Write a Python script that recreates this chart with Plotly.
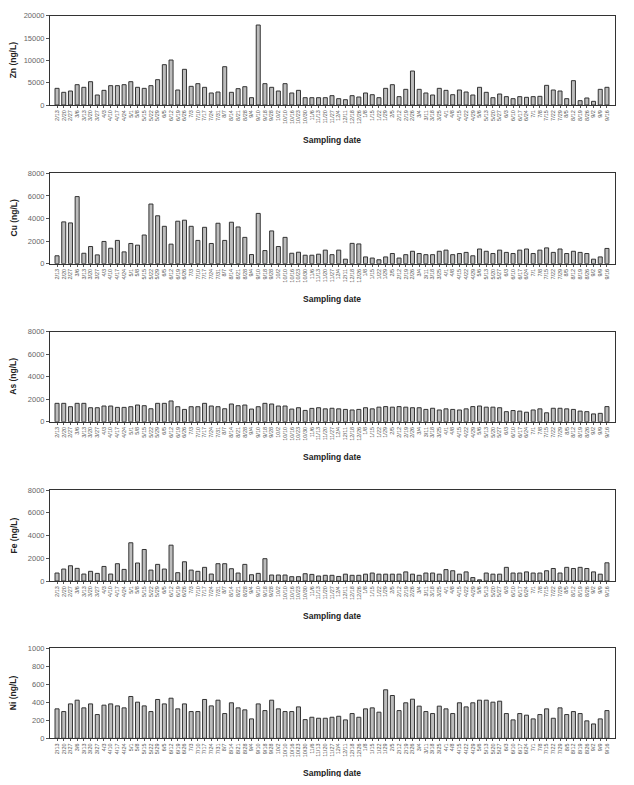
import plotly.graph_objects as go

dates = ["2/13","2/20","2/27","3/6","3/13","3/20","3/27","4/3","4/10","4/17","4/24",
         "5/1","5/8","5/15","5/22","5/29","6/5","6/12","6/19","6/26","7/3","7/10","7/17",
         "7/24","7/31","8/7","8/14","8/21","8/28","9/4","9/10","9/18","9/28","10/2","10/10",
         "10/16","10/23","10/30","11/6","11/13","11/20","11/27","12/4","12/11","12/18","12/26",
         "1/8","1/15","1/22","1/29","2/5","2/12","2/19","2/26","3/4","3/11","3/18","3/25",
         "4/1","4/8","4/15","4/22","4/29","5/6","5/13","5/20","5/27","6/3","6/10","6/17","6/24",
         "7/1","7/8","7/15","7/22","7/29","8/5","8/12","8/19","8/26","9/2","9/9","9/16"]

zn = [3730,2840,3130,4550,3960,5220,2240,3280,4330,4330,4550,5220,3960,3730,4330,5670,
      9030,10070,3360,7990,4180,4780,3960,2690,2910,8580,2840,3660,4100,1640,17910,4780,
      3960,3130,4780,2690,3280,1640,1640,1640,
      1640,2090,1420,1190,2090,1790,2690,2310,1640,3730,4550,1870,3510,7610,3510,2690,2240,
      3730,3280,2310,3360,2910,2240,3960,2840,1640,2460,1870,1420,1870,1720,1870,1940,4400,
      3360,3130,1420,5450,970,1570,820,3510,3960]

cu = [700,3700,3610,5940,925,1520,780,1970,1370,2060,1045,1790,1640,2540,5280,4240,3310,
      1730,3760,3850,3310,2060,3220,1790,3580,2060,3670,3250,2330,810,4450,1160,2900,1520,
      2330,925,1015,750,750,840,
      1200,800,1200,400,1800,1750,600,500,350,600,900,500,800,1100,900,800,800,1100,1200,
      800,900,1000,700,1300,1100,900,1200,1000,900,1200,1300,900,1200,1400,1000,1300,900,
      1100,1000,900,400,600,1350]

as_ = [1640,1640,1340,1640,1640,1250,1250,1400,1400,1280,1280,1340,1490,1430,1160,1640,
       1640,1850,1340,1100,1340,1340,1640,1400,1340,1160,1580,1430,1490,1130,1340,1640,1580,
       1400,1400,1130,1250,1010,1190,1250,
       1150,1200,1150,1100,1050,1100,1250,1150,1300,1350,1300,1350,1300,1250,1250,1100,1200,
       1050,1150,1100,1050,1150,1350,1400,1300,1300,1250,900,1000,950,850,1050,1150,800,1200,
       1200,1150,1100,950,900,700,750,1350]

fe = [700,1050,1340,1110,610,850,670,1280,610,1520,1020,3360,1580,2770,960,1460,1050,3150,
      730,1690,960,850,1200,610,1520,1520,1080,700,1460,550,670,1960,525,525,525,380,380,640,
      580,440,
      500,500,400,600,500,500,600,700,600,600,600,600,800,600,500,700,700,600,1000,900,600,
      800,300,100,700,600,600,1200,700,700,800,700,700,900,1100,700,1200,1100,1200,1100,800,
      600,1600]

ni = [326,296,381,422,337,381,263,367,381,359,337,463,400,359,296,430,381,444,326,381,296,
      296,430,359,422,274,393,337,315,215,381,307,422,326,296,296,348,207,233,222,222,
      233,244,204,274,233,326,337,289,537,474,307,393,433,356,296,274,356,326,274,393,348,393,
      422,422,400,411,274,204,274,256,215,263,326,222,337,263,296,274,193,159,215,307]

# page-pixel positions (top, bottom) of each plot area
panels = [
    ("Zn (ng/L)", zn, 20000, 5000, 15.7, 105.0),
    ("Cu (ng/L)", cu, 8000, 2000, 173.3, 263.7),
    ("As (ng/L)", as_, 8000, 2000, 331.7, 421.8),
    ("Fe (ng/L)", fe, 8000, 2000, 490.0, 581.0),
    ("Ni (ng/L)", ni, 1000, 200, 648.0, 738.3),
]

OFF = 8  # default body margin of the html page
W, H = 634 - 2 * OFF, 785 - 2 * OFF
XL, XR = 50 - OFF, 615 - OFF
FONT = "Arial, Liberation Sans, sans-serif"
xs = list(range(len(dates)))

fig = go.Figure()
layout = dict(width=W, height=H, margin=dict(l=0, r=0, t=0, b=0, autoexpand=False),
              paper_bgcolor="white", plot_bgcolor="white", showlegend=False,
              font=dict(family=FONT, color="#333"), bargap=0.4)
annotations = []
for i, (title, vals, ymax, dt, ytop, ybot) in enumerate(panels):
    ytop -= OFF
    ybot -= OFF
    n = i + 1
    xa = "x" if n == 1 else f"x{n}"
    ya = "y" if n == 1 else f"y{n}"
    fig.add_trace(go.Bar(x=xs, y=vals, xaxis=xa, yaxis=ya, width=0.6,
                         marker=dict(color="#bcbcbc", line=dict(color="#333333", width=1))))
    layout[f"xaxis{'' if n == 1 else n}"] = dict(
        domain=[XL / W, XR / W], anchor=ya, range=[-1.05, 83.2], automargin=False,
        tickmode="array", tickvals=xs, ticktext=dates, tickangle=-90,
        tickfont=dict(size=5.5, color="#555"), ticks="outside", ticklen=2,
        tickcolor="#555", showline=True, linecolor="#333", linewidth=1,
        mirror=True, showgrid=False, zeroline=False, fixedrange=True)
    layout[f"yaxis{'' if n == 1 else n}"] = dict(
        domain=[1 - ybot / H, 1 - ytop / H], anchor=xa, range=[0, ymax], automargin=False,
        dtick=dt, tickformat="d", tickfont=dict(size=7.5, color="#666"), ticks="outside",
        ticklen=3, tickcolor="#555", showline=True, linecolor="#333", linewidth=1,
        mirror=True, showgrid=False, zeroline=False, fixedrange=True)
    annotations.append(dict(text=f"<b>{title}</b>", x=(13 - OFF) / W,
                            y=1 - (ytop + ybot) / 2 / H,
                            xref="paper", yref="paper", textangle=-90, showarrow=False,
                            font=dict(size=8.5, color="#222", family=FONT),
                            xanchor="center", yanchor="middle"))
    annotations.append(dict(text="<b>Sampling date</b>", x=(XL + XR) / 2 / W,
                            y=1 - (ybot + 35) / H, xref="paper", yref="paper",
                            showarrow=False, font=dict(size=8.5, color="#222", family=FONT),
                            xanchor="center", yanchor="middle"))
layout["annotations"] = annotations
fig.update_layout(**layout)
fig.write_html("out.html")
